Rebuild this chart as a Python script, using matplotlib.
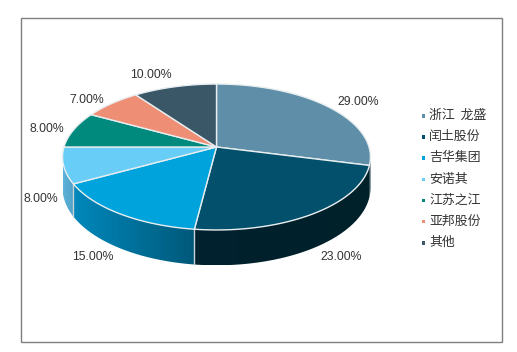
import numpy as np
import matplotlib
matplotlib.use("Agg")
import matplotlib.pyplot as plt
from matplotlib.patches import Polygon, Rectangle
from matplotlib.colors import LinearSegmentedColormap

categories = ["浙江  龙盛", "闰土股份", "吉华集团", "安诺其", "江苏之江", "亚邦股份", "其他"]
values = [29, 23, 15, 8, 8, 7, 10]
labels = ["29.00%", "23.00%", "15.00%", "8.00%", "8.00%", "7.00%", "10.00%"]
colors = ["#5F8FA8", "#02506C", "#00A3DC", "#68CDF7", "#008A7E", "#EE8E75", "#3A5768"]
wall_left = ["#00222E", "#00222E", "#0088BC", "#5DB3DA", None, None, None]
wall_right = ["#00222E", "#00202A", "#00597A", "#4FA0C6", None, None, None]
label_xy = [(358, 102), (341, 257), (93, 257), (41, 199), (47, 129), (87, 100), (151, 75)]

CX, CY, SX, SY, K, DEPTH = 216.5, 147.0, 152.5, 71.6, 0.137, 30.5

fig = plt.figure(figsize=(5.17, 3.52), dpi=100)
ax = fig.add_axes([0, 0, 1, 1])
ax.axis("off")


def project(theta, drop=0.0):
    u, v = np.sin(theta), -np.cos(theta)
    w = 1 - K * v
    return CX + SX * u / w, CY + SY * v / w + drop / w


ax.add_patch(Rectangle((20.5, 17.5), 481.5, 324, fc="white", ec="#7F7F7F", lw=1.0, zorder=0))

edges = np.cumsum([0] + values) / sum(values) * 2 * np.pi
VIS_LO, VIS_HI = np.pi * 0.544, np.pi * 1.456

# side wall: a horizontal gradient image clipped to each visible wall piece
for i in range(len(values)):
    if wall_left[i] is None:
        continue
    lo, hi = max(edges[i], VIS_LO), min(edges[i + 1], VIS_HI)
    if hi <= lo:
        continue
    ts = np.linspace(lo, hi, 100)
    xt, yt = project(ts)
    xb, yb = project(ts, DEPTH)
    pts = list(zip(xt, yt)) + list(zip(xb[::-1], yb[::-1]))
    clip = Polygon(pts, closed=True, transform=ax.transData, fc="none", ec="none")
    ax.add_patch(clip)
    cmap = LinearSegmentedColormap.from_list("w", [wall_left[i], wall_right[i]])
    xmin, xmax = xt.min(), xt.max()
    ymin, ymax = min(yt.min(), yb.min()), max(yt.max(), yb.max())
    im = ax.imshow(np.linspace(0, 1, 256)[None, :], cmap=cmap, aspect="auto",
                   extent=(xmin, xmax, ymax, ymin), zorder=1, interpolation="bilinear")
    im.set_clip_path(clip)

ax.set_xlim(0, 517)
ax.set_ylim(352, 0)

# wall seams
for a in (edges[2], edges[3]):
    ax.plot([project(a)[0], project(a, DEPTH)[0]], [project(a)[1], project(a, DEPTH)[1]],
            color="#C9D3D8", lw=1.0, zorder=2, solid_capstyle="butt")

# top face
for i in range(len(values)):
    ts = np.linspace(edges[i], edges[i + 1], 80)
    px, py = project(ts)
    pts = [(CX, CY)] + list(zip(px, py))
    ax.add_patch(Polygon(pts, closed=True, fc=colors[i], ec="#E8EEF0", lw=1.0,
                         joinstyle="round", zorder=3))

for (x, y), s in zip(label_xy, labels):
    ax.text(x, y, s, ha="center", va="center", fontsize=8.8, family="Liberation Sans",
            color="#333333", zorder=5)

leg_y = [115.5, 136.5, 157.5, 179, 200, 221, 242.5]
for y, name, c in zip(leg_y, categories, colors):
    ax.add_patch(Rectangle((421.5, y - 1.5), 3.5, 3.5, fc=c, ec="none", zorder=5))
    ax.text(429, y, name, ha="left", va="center", fontsize=9.3,
            family=["Noto Sans CJK SC", "DejaVu Sans"], color="#333333", zorder=5)

fig.savefig("out.png", dpi=100, facecolor="white")
